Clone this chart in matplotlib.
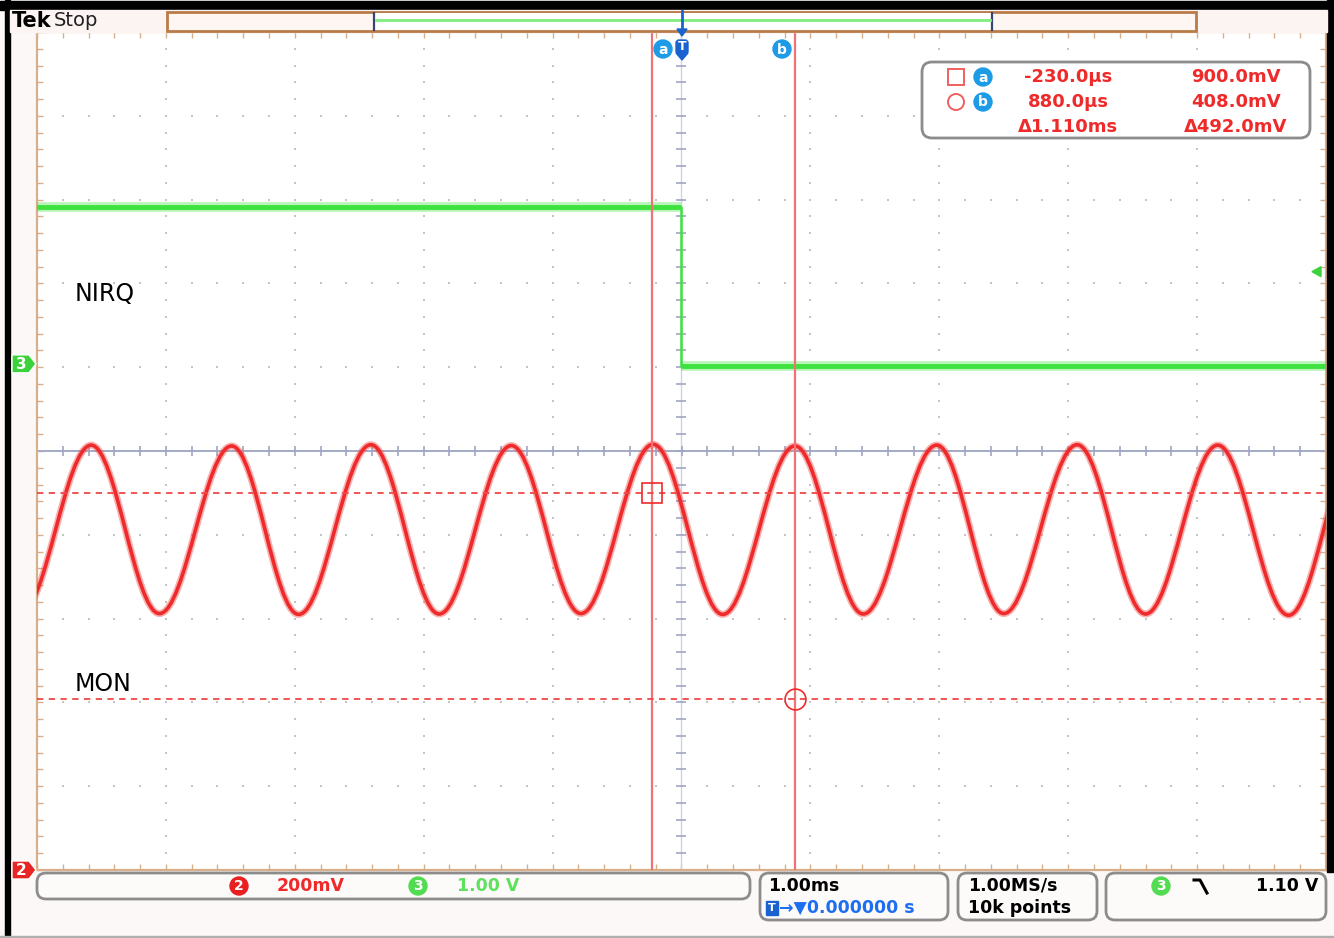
import matplotlib

matplotlib.use("Agg")
import matplotlib.pyplot as plt
import numpy as np
from matplotlib.patches import Circle, FancyBboxPatch, PathPatch, Polygon, Rectangle
from matplotlib.path import Path

# scope settings read from the capture
MS_PER_DIV = 1.00
CH2_MV_PER_DIV = 200.0
CH2_GROUND_DIV = -5.0
CH3_V_PER_DIV = 1.00
CH3_GROUND_DIV = 1.04
TRIGGER_LEVEL_V = 1.10

# MON (ch2): turning points of the sine, time in ms, level in mV
MON_EXTREMA_MS = [-5.13, -4.58, -4.05, -3.49, -2.97, -2.41, -1.88, -1.32, -0.78, -0.22,
                  0.32, 0.88, 1.41, 1.98, 2.50, 3.07, 3.60, 4.16, 4.71, 5.25]
MON_EXTREMA_MV = [612, 1014, 612, 1012, 610, 1015, 611, 1013, 612, 1016,
                  610, 1012, 611, 1014, 612, 1015, 611, 1014, 608, 1012]

# NIRQ (ch3): falls at the trigger
NIRQ_T_MS = [-5.0, 0.0, 0.0, 5.0]
NIRQ_V = [1.87, 1.87, -0.02, -0.02]

# cursors
CURSOR_T_US = [-230.0, 880.0]
CURSOR_MV = [900.0, 408.0]
READOUT_TIME = ["-230.0µs", "880.0µs", "Δ1.110ms"]
READOUT_VOLT = ["900.0mV", "408.0mV", "Δ492.0mV"]

RED = "#ee2a2a"
GREEN = "#3ee23e"
BLUE = "#1e9be6"
TAN = "#d9ae8a"


def ch2_div(mv):
    return CH2_GROUND_DIV + np.asarray(mv) / CH2_MV_PER_DIV


def ch3_div(v):
    return CH3_GROUND_DIV + np.asarray(v) / CH3_V_PER_DIV


def sine_path(ts, ys, k=0.3634):
    # cubic bezier between turning points, flat tangents at each peak
    verts = [(ts[0], ys[0])]
    codes = [Path.MOVETO]
    for t0, y0, t1, y1 in zip(ts[:-1], ys[:-1], ts[1:], ys[1:]):
        dt = t1 - t0
        verts += [(t0 + k * dt, y0), (t1 - k * dt, y1), (t1, y1)]
        codes += [Path.CURVE4] * 3
    return Path(verts, codes)


def badge(ax, x, y, label, color, r=9, size=10):
    ax.add_patch(Circle((x, y), r, color=color, zorder=5))
    ax.text(x, y + 0.5, label, color="white", fontsize=size, fontweight="bold",
            ha="center", va="center", zorder=6)


def main():
    fig = plt.figure(figsize=(13.34, 9.38), dpi=100, facecolor="#fcf8f8")

    # ---- scope screen, in divisions ----
    ax = fig.add_axes([37 / 1334, (938 - 870) / 938, 1289 / 1334, 838 / 938])
    ax.set_facecolor("white")
    ax.set_xlim(-5, 5)
    ax.set_ylim(-5, 5)
    for s in ax.spines.values():
        s.set_color(TAN)
        s.set_linewidth(1.6)
    major = np.arange(-5, 5.01, 1.0)
    minor = np.arange(-5, 5.01, 0.2)
    ax.set_xticks(major)
    ax.set_yticks(major)
    ax.set_xticks(minor, minor=True)
    ax.set_yticks(minor, minor=True)
    ax.tick_params(which="both", direction="in", length=4, color=TAN, width=1,
                   top=True, right=True, labelbottom=False, labelleft=False)

    # dotted graticule
    inner = major[1:-1][major[1:-1] != 0]
    gx, gy = np.meshgrid(inner, minor)
    ax.plot(gx.ravel(), gy.ravel(), ls="none", marker="s", ms=1.8, color="#c4c4c4", mew=0)
    ax.plot(gy.ravel(), gx.ravel(), ls="none", marker="s", ms=1.8, color="#c4c4c4", mew=0)
    ax.axhline(0, color="#a4aac6", lw=1.4)
    ax.axvline(0, color="#d0d3e2", lw=1.0)
    ax.plot(minor, np.zeros_like(minor), ls="none", marker="|", ms=7, mew=1.2, color="#a0a6c2")
    ax.plot(np.zeros_like(minor), minor, ls="none", marker="_", ms=7, mew=1.2, color="#a0a6c2")

    # NIRQ trace
    nt = np.array(NIRQ_T_MS) / MS_PER_DIV
    ny = ch3_div(NIRQ_V)
    ax.plot(nt, ny, color=GREEN, lw=1.8, zorder=3)
    for sl in (slice(0, 2), slice(2, 4)):
        ax.plot(nt[sl], ny[sl], color=GREEN, lw=7, alpha=0.35, zorder=3, solid_capstyle="butt")
        ax.plot(nt[sl], ny[sl], color=GREEN, lw=3.5, zorder=3, solid_capstyle="butt")

    # MON trace
    path = sine_path(np.array(MON_EXTREMA_MS) / MS_PER_DIV, ch2_div(MON_EXTREMA_MV))
    ax.add_patch(PathPatch(path, facecolor="none", edgecolor="#f45050", lw=5, alpha=0.45, zorder=4))
    ax.add_patch(PathPatch(path, facecolor="none", edgecolor=RED, lw=2.6, zorder=4))

    # cursors
    ct = np.array(CURSOR_T_US) / 1000.0 / MS_PER_DIV
    cy = ch2_div(CURSOR_MV)
    for t in ct:
        ax.axvline(t, color="#f07272", lw=1.6, zorder=5)
    for y in cy:
        ax.axhline(y, color="#f04848", lw=1.3, ls=(0, (3.5, 3)), zorder=5)
    ax.plot(ct[0], cy[0], marker="s", ms=15, mfc="none", mec=RED, mew=1.2, zorder=6)
    ax.plot(ct[1], cy[1], marker="o", ms=15, mfc="none", mec=RED, mew=1.2, zorder=6)

    # ---- frame and readouts, in pixels ----
    d = fig.add_axes([0, 0, 1, 1], zorder=3)
    d.set_xlim(0, 1334)
    d.set_ylim(938, 0)
    d.axis("off")

    d.add_patch(Rectangle((0, 1), 1334, 9, color="black"))
    d.add_patch(Rectangle((5, 0), 5, 938, color="black"))
    d.add_patch(Rectangle((1327, 0), 6, 872, color="black"))
    d.add_patch(Rectangle((10, 10), 1317, 22, color="#fcf4f2"))
    d.add_patch(Rectangle((0, 936), 1334, 2, color="#b0b0b0"))

    # record view
    d.add_patch(Rectangle((167, 12), 1029, 19, facecolor="#fdf6f3", edgecolor="#b97b48", lw=2))
    d.add_patch(Rectangle((374, 13), 618, 17, facecolor="white", edgecolor="none"))
    d.plot([374, 374], [13, 30], color="#3a4470", lw=1.6)
    d.plot([992, 992], [13, 30], color="#3a4470", lw=1.6)
    d.plot([376, 990], [20, 20], color="#7eee7e", lw=2)

    d.text(12, 21, "Tek", fontsize=15, fontweight="bold", va="center",
           family=["Liberation Sans Narrow", "DejaVu Sans"])
    d.text(54, 21, "Stop", fontsize=14, va="center", color="#202020",
           family=["Liberation Sans Narrow", "DejaVu Sans"])

    # trigger position marker
    tx = 682
    d.plot([tx, tx], [11, 30], color="#1a62d0", lw=2)
    d.add_patch(Polygon([(tx - 5, 29), (tx + 5, 29), (tx, 36)], color="#1a62d0"))
    d.add_patch(FancyBboxPatch((tx - 6, 40), 12, 14, boxstyle="round,pad=0,rounding_size=3",
                               color="#1a62d0"))
    d.add_patch(Polygon([(tx - 6, 53), (tx + 6, 53), (tx, 60)], color="#1a62d0"))
    d.text(tx, 47, "T", color="white", fontsize=9, fontweight="bold", ha="center", va="center")
    badge(d, 663, 49, "a", BLUE)
    badge(d, 782, 49, "b", BLUE)

    # cursor readout box
    d.add_patch(FancyBboxPatch((922, 62), 388, 76, boxstyle="round,pad=0,rounding_size=10",
                               facecolor="white", edgecolor="#8c8c8c", lw=2))
    d.add_patch(Rectangle((948, 69), 16, 16, facecolor="none", edgecolor="#f06060", lw=1.4))
    d.add_patch(Circle((956, 102), 8, facecolor="none", edgecolor="#f06060", lw=1.4))
    badge(d, 983, 77, "a", BLUE)
    badge(d, 983, 102, "b", BLUE)
    for i, (tt, vv) in enumerate(zip(READOUT_TIME, READOUT_VOLT)):
        y = 77 + 25 * i
        d.text(1068, y, tt, color=RED, fontsize=13, fontweight="bold", ha="center", va="center")
        d.text(1236, y, vv, color=RED, fontsize=13, fontweight="bold", ha="center", va="center")

    d.text(75, 294, "NIRQ", fontsize=17, va="center")
    d.text(75, 684, "MON", fontsize=17, va="center")

    # channel ground markers and trigger level
    for y, lab, col in [(870 - 83.8 * (ch3_div(0) + 5), "3", "#3cd23c"),
                        (870 - 83.8 * (CH2_GROUND_DIV + 5), "2", "#e82424")]:
        d.add_patch(Polygon([(12, y - 9), (29, y - 9), (36, y), (29, y + 9), (12, y + 9)],
                            facecolor=col, edgecolor="white", lw=1))
        d.text(21, y + 0.5, lab, color="white", fontsize=11, fontweight="bold",
               ha="center", va="center")
    ty = 870 - 83.8 * (ch3_div(TRIGGER_LEVEL_V) + 5)
    d.add_patch(Polygon([(1312, ty), (1321, ty - 5), (1321, ty + 5)], color="#3cd23c"))

    # bottom status boxes
    for x0, w, h in [(37, 713, 26), (760, 188, 47), (958, 139, 47), (1106, 220, 47)]:
        d.add_patch(FancyBboxPatch((x0, 873), w, h, boxstyle="round,pad=0,rounding_size=9",
                                   facecolor="#fdfafa", edgecolor="#8c8c8c", lw=2))
    badge(d, 239, 886, "2", "#e82020")
    d.text(277, 886, f"{CH2_MV_PER_DIV:.0f}mV", color=RED, fontsize=12.5,
           fontweight="bold", va="center")
    badge(d, 418, 886, "3", "#52dc52")
    d.text(457, 886, f"{CH3_V_PER_DIV:.2f} V", color="#5ee25e", fontsize=12.5,
           fontweight="bold", va="center")

    d.text(768, 886, f"{MS_PER_DIV:.2f}ms", fontsize=12.5, fontweight="bold", va="center")
    d.add_patch(Rectangle((766, 901), 12, 14, color="#1a62d0"))
    d.text(772, 908, "T", color="white", fontsize=8, fontweight="bold", ha="center", va="center")
    d.text(779, 908, "→▼0.000000 s", color="#1e6ef0", fontsize=12.5, fontweight="bold",
           va="center")
    d.text(968, 886, "1.00MS/s", fontsize=12.5, fontweight="bold", va="center")
    d.text(968, 908, "10k points", fontsize=12.5, fontweight="bold", va="center")

    badge(d, 1161, 886, "3", "#52dc52")
    d.plot([1194, 1200, 1207], [880, 880, 893], color="black", lw=2.2)
    d.text(1318, 886, f"{TRIGGER_LEVEL_V:.2f} V", fontsize=12.5, fontweight="bold",
           ha="right", va="center")

    fig.savefig("out.png", dpi=100, facecolor=fig.get_facecolor())


if __name__ == "__main__":
    main()
